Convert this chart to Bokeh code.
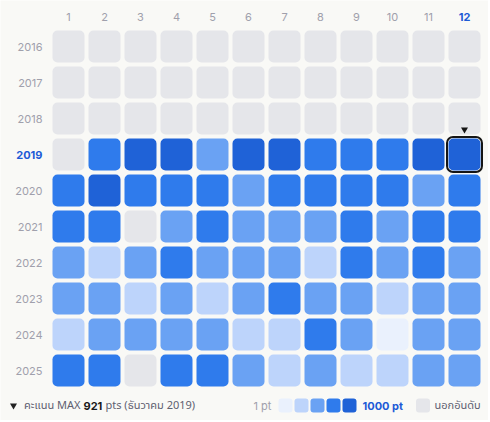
from bokeh.plotting import figure
from bokeh.models import Range1d, ColumnDataSource
from bokeh.core.properties import value
from bokeh.embed import file_html
from bokeh.resources import INLINE

# ---- data ----
months = list(range(1, 13))
years = list(range(2016, 2026))
# level per month: 0 = outside ranking, 1..5 = points bucket (1 pt -> 1000 pt)
lv2016 = [0, 0, 0, 0, 0, 0, 0, 0, 0, 0, 0, 0]
lv2017 = [0, 0, 0, 0, 0, 0, 0, 0, 0, 0, 0, 0]
lv2018 = [0, 0, 0, 0, 0, 0, 0, 0, 0, 0, 0, 0]
lv2019 = [0, 4, 5, 5, 3, 5, 5, 4, 4, 4, 5, 5]
lv2020 = [4, 5, 4, 4, 4, 3, 4, 4, 4, 4, 3, 4]
lv2021 = [4, 4, 0, 3, 4, 3, 3, 3, 4, 3, 4, 4]
lv2022 = [3, 2, 3, 4, 3, 3, 3, 2, 4, 3, 4, 3]
lv2023 = [3, 3, 2, 3, 2, 3, 4, 3, 3, 2, 3, 3]
lv2024 = [2, 3, 3, 3, 3, 2, 2, 4, 3, 1, 3, 3]
lv2025 = [4, 4, 0, 4, 4, 3, 2, 3, 2, 2, 3, 3]
levels = [lv2016, lv2017, lv2018, lv2019, lv2020, lv2021, lv2022, lv2023, lv2024, lv2025]
sel_year, sel_month, max_pts = 2019, 12, 921

palette = ["#E5E6EA", "#EAF1FD", "#BDD4FB", "#6AA2F3", "#2F7BEC", "#1F62D7"]
BG = "#F9F9F6"
GREY_TXT = "#A0A0AC"
BLUE_TXT = "#1D5BD6"
FONT = value("Inter")
TFONT = value("'Noto Sans Thai', 'Noto Sans', Inter")

# ---- layout (page pixels; page has no margin) ----
W, H = 488, 420
PITCH = 36.0
x0 = months[0] - 68 / PITCH
y_top = years[0] - 46 / PITCH

def px_x(px):
    return x0 + px / PITCH

def px_y(px):
    return y_top + px / PITCH

p = figure(width=W, height=H,
           x_range=Range1d(x0, x0 + W / PITCH),
           y_range=Range1d(y_top + H / PITCH, y_top),
           output_backend="svg", toolbar_location=None, min_border=0,
           x_axis_location=None, y_axis_location=None)
p.grid.visible = False
p.outline_line_color = None
p.background_fill_color = BG
p.border_fill_color = BG

xs, ys, cs = [], [], []
for yr, row in zip(years, levels):
    for m, lv in zip(months, row):
        xs.append(m)
        ys.append(yr)
        cs.append(palette[lv])
src = ColumnDataSource(dict(x=xs, y=ys, c=cs))
p.rect(x="x", y="y", width=32, height=32, width_units="screen", height_units="screen",
       fill_color="c", line_color=None, border_radius=5, source=src)

# selected cell outline + marker
p.rect(x=[sel_month], y=[sel_year], width=35, height=35, width_units="screen",
       height_units="screen", fill_color=None, line_color="#151515", line_width=2,
       border_radius=6)
p.scatter(x=[sel_month], y=[sel_year - 25 / PITCH], marker="inverted_triangle",
          size=7, fill_color="#151515", line_color=None)

# month labels
ml_y = years[0] - 30 / PITCH
reg_m = [m for m in months if m != sel_month]
p.text(x=reg_m, y=[ml_y] * len(reg_m), text=[str(m) for m in reg_m],
       text_font=FONT, text_font_size="11px", text_color=GREY_TXT,
       text_align="center", text_baseline="middle")
p.text(x=[sel_month], y=[ml_y], text=[str(sel_month)], text_font=FONT,
       text_font_size="11px", text_font_style="bold", text_color=BLUE_TXT,
       text_align="center", text_baseline="middle")

# year labels
yl_x = months[0] - 26 / PITCH
reg_y = [y for y in years if y != sel_year]
p.text(x=[yl_x] * len(reg_y), y=reg_y, text=[str(y) for y in reg_y],
       text_font=FONT, text_font_size="11px", text_color=GREY_TXT,
       text_align="right", text_baseline="middle")
p.text(x=[yl_x], y=[sel_year], text=[str(sel_year)], text_font=FONT,
       text_font_size="11px", text_font_style="bold", text_color=BLUE_TXT,
       text_align="right", text_baseline="middle")

# ---- footer legend ----
ly = px_y(405)
p.scatter(x=[px_x(13)], y=[ly], marker="inverted_triangle", size=7,
          fill_color="#222222", line_color=None)
p.text(x=[px_x(80)], y=[ly], text=["คะแนน MAX"], text_font=TFONT, text_font_size="11px",
       text_color="#5E6070", text_align="right", text_baseline="middle")
p.text(x=[px_x(83)], y=[ly], text=[str(max_pts)], text_font=FONT, text_font_size="11px",
       text_font_style="bold", text_color="#1A1A1A", text_align="left", text_baseline="middle")
p.text(x=[px_x(105)], y=[ly], text=["pts (ธันวาคม %d)" % sel_year], text_font=TFONT,
       text_font_size="11px", text_color="#5E6070", text_align="left", text_baseline="middle")

p.text(x=[px_x(253)], y=[ly], text=["1 pt"], text_font=FONT, text_font_size="11px",
       text_color=GREY_TXT, text_align="left", text_baseline="middle")
sw_x = [px_x(285 + 16 * i) for i in range(5)]
p.rect(x=sw_x, y=[ly] * 5, width=14, height=14, width_units="screen", height_units="screen",
       fill_color=palette[1:], line_color=None, border_radius=3)
p.text(x=[px_x(362)], y=[ly], text=["1000 pt"], text_font=FONT, text_font_size="11px",
       text_font_style="bold", text_color=BLUE_TXT, text_align="left", text_baseline="middle")
p.rect(x=[px_x(422.5)], y=[ly], width=14, height=14, width_units="screen",
       height_units="screen", fill_color=palette[0], line_color=None, border_radius=3)
p.text(x=[px_x(434)], y=[ly], text=["นอกอันดับ"], text_font=TFONT, text_font_size="11px",
       text_color="#5E6070", text_align="left", text_baseline="middle")

html = file_html(p, INLINE)
html = html.replace("<body>", '<body style="background:%s;">' % BG, 1)
open("out.html", "w").write(html)
